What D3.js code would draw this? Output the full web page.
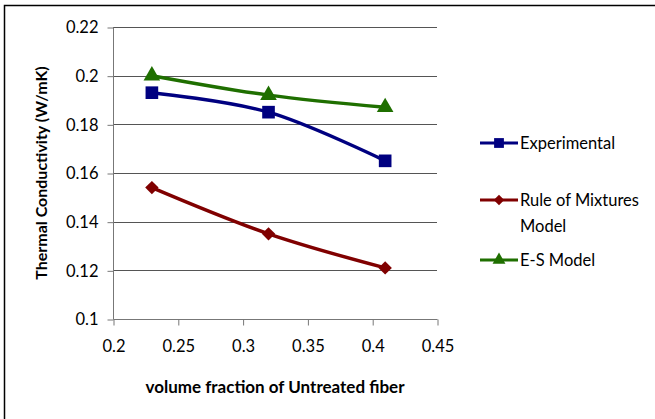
<!DOCTYPE html>
<html>
<head>
<meta charset="utf-8">
<script src="https://cdn.jsdelivr.net/npm/d3@7"></script>
<style>
  body { margin: 0; background: #fff; }
  svg text { font-family: Lato, "Open Sans", sans-serif; fill: #000; }
</style>
</head>
<body>
<svg id="chart" width="655" height="419"></svg>
<script>
// data
const fractions = [0.23, 0.32, 0.41];
const experimental = [0.193, 0.185, 0.165];
const ruleOfMixtures = [0.154, 0.135, 0.121];
const esModel = [0.200, 0.192, 0.187];
const xTicks = [0.2, 0.25, 0.3, 0.35, 0.4, 0.45];
const yTicks = [0.1, 0.12, 0.14, 0.16, 0.18, 0.2, 0.22];
const seriesNames = ["Experimental", "Rule of Mixtures Model", "E-S Model"];

const width = 655, height = 419;
const svg = d3.select("#chart");

// outer frame (runs off right/bottom edge)
svg.append("rect")
   .attr("x", 4.5).attr("y", 5.5)
   .attr("width", 700).attr("height", 500)
   .attr("fill", "none").attr("stroke", "#000").attr("stroke-width", 1.5);

const x = d3.scaleLinear().domain([0.2, 0.45]).range([113, 437]);
const y = d3.scaleLinear().domain([0.1, 0.22]).range([319, 27]);

// gridlines
svg.selectAll(".grid")
   .data(yTicks.slice(1)).enter()
   .append("line")
   .attr("class", "grid")
   .attr("x1", x(0.2)).attr("x2", x(0.45))
   .attr("y1", d => Math.round(y(d)) + 0.5).attr("y2", d => Math.round(y(d)) + 0.5)
   .attr("stroke", "#555").attr("stroke-width", 1);

const yAxis = d3.axisLeft(y).tickValues(yTicks).tickSize(6).tickPadding(9)
                .tickFormat(d => d3.format("")(+d.toFixed(2)));
const xAxis = d3.axisBottom(x).tickValues(xTicks).tickSize(6).tickPadding(15)
                .tickFormat(d => d3.format("")(+d.toFixed(2)));

const gy = svg.append("g").attr("transform", "translate(" + (x(0.2) + 0.5) + ",0.5)").call(yAxis);
const gx = svg.append("g").attr("transform", "translate(0.5," + (y(0.1) + 0.5) + ")").call(xAxis);
[gy, gx].forEach(g => {
  g.selectAll("path, line").attr("stroke", "#777");
  g.selectAll("text").style("font-size", "16.5px").attr("fill", "#000");
  g.select(".domain").attr("d", g === gy ? "M0," + y(0.22) + "V" + y(0.1) : "M" + x(0.2) + ",0H" + x(0.45));
});

// axis titles
svg.append("text")
   .attr("transform", "translate(47," + y(0.16) + ") rotate(-90)")
   .attr("text-anchor", "middle")
   .style("font-size", "16px").style("font-weight", "bold")
   .text("Thermal Conductivity (W/mK)");
svg.append("text")
   .attr("x", 275).attr("y", 393)
   .attr("text-anchor", "middle")
   .style("font-size", "17px").style("font-weight", "bold")
   .text("volume fraction of Untreated fiber");

// rotated square for the diamond marker
const diamond = {
  draw(ctx, size) {
    const r = Math.sqrt(size / 2);
    ctx.moveTo(0, -r); ctx.lineTo(r, 0); ctx.lineTo(0, r); ctx.lineTo(-r, 0); ctx.closePath();
  }
};

const series = [
  { name: seriesNames[0], values: experimental, color: "#000080", shape: d3.symbolSquare, size: 160 },
  { name: seriesNames[1], values: ruleOfMixtures, color: "#800000", shape: diamond, size: 90 },
  { name: seriesNames[2], values: esModel, color: "#1f6f00", shape: d3.symbolTriangle, size: 120 }
];

const line = d3.line()
  .x((d, i) => x(fractions[i]))
  .y(d => y(d))
  .curve(d3.curveCatmullRom.alpha(0.5));

series.forEach(s => {
  svg.append("path")
     .datum(s.values)
     .attr("d", line)
     .attr("fill", "none")
     .attr("stroke", s.color)
     .attr("stroke-width", 3.5);
  svg.selectAll(null)
     .data(s.values).enter()
     .append("path")
     .attr("transform", (d, i) => "translate(" + x(fractions[i]) + "," + y(d) + ")")
     .attr("d", d3.symbol().type(s.shape).size(s.size))
     .attr("fill", s.color);
});

// legend
const legendY = [143, 200, 260];
series.forEach((s, i) => {
  const g = svg.append("g").attr("transform", "translate(480," + legendY[i] + ")");
  g.append("line").attr("x1", 0).attr("x2", 38).attr("stroke", s.color).attr("stroke-width", 3);
  g.append("path").attr("transform", "translate(19,0)")
   .attr("d", d3.symbol().type(s.shape).size(s.size * 0.6)).attr("fill", s.color);
  const t = g.append("text").attr("x", 40).attr("y", 5.5).style("font-size", "16.5px");
  if (s.name === "Rule of Mixtures Model") {
    t.append("tspan").attr("x", 40).text("Rule of Mixtures");
    t.append("tspan").attr("x", 40).attr("dy", 26).text("Model");
  } else {
    t.text(s.name);
  }
});
</script>
</body>
</html>
